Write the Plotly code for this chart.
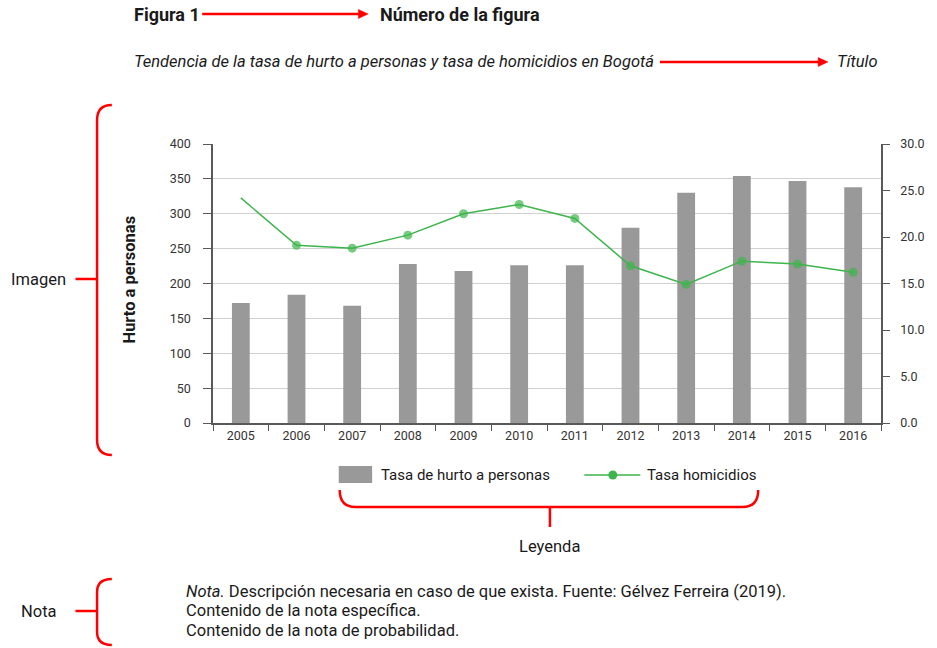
import plotly.graph_objects as go

# ---------------- data ----------------
years = ["2005", "2006", "2007", "2008", "2009", "2010", "2011", "2012", "2013", "2014", "2015", "2016"]
hurto = [172, 184, 168, 228, 218, 226, 226, 280, 330, 354, 347, 338]
homicidios = [24.2, 19.1, 18.8, 20.2, 22.5, 23.5, 22.0, 16.9, 14.9, 17.4, 17.1, 16.2]
marker_sizes = [0, 9, 9, 9, 9, 9, 9, 9, 9, 9, 9, 9]
left_ticks = [0, 50, 100, 150, 200, 250, 300, 350, 400]
right_ticks = [0, 5, 10, 15, 20, 25, 30]

W, H = 937, 648
L, R, T, B = 213, 893, 144, 423  # plot area in pixels

FONT = "Roboto"
RED = "#ff0000"
GRAY_BAR = "#999999"
GREEN = "#3cb54a"
AXIS = "#595959"


def X(px):
    return (px - L) / (R - L)


def Y(py):
    return (B - py) / (B - T)


fig = go.Figure()
fig.add_trace(go.Bar(
    x=years, y=hurto, name="Tasa de hurto a personas",
    marker=dict(color=GRAY_BAR, line=dict(width=0)), width=0.32,
))
fig.add_trace(go.Scatter(
    x=years, y=homicidios, name="Tasa homicidios", yaxis="y2",
    mode="lines+markers",
    line=dict(color=GREEN, width=1.5),
    marker=dict(color=GREEN, size=marker_sizes, line=dict(width=0)),
))

shapes = []
annotations = []

BIG = 16.5


def text(px, py, s, size=BIG, xanchor="left", yanchor="middle", color="#1a1a1a", angle=0):
    annotations.append(dict(
        x=X(px), y=Y(py), xref="paper", yref="paper", text=s, showarrow=False,
        xanchor=xanchor, yanchor=yanchor, textangle=angle, borderpad=0,
        font=dict(family=FONT, size=size, color=color),
    ))


def path(d_pts, color=RED, width=2.5, fill=None, closed=False):
    d = "M " + " ".join(
        (f"{c} " if isinstance(c, str) else f"{X(c[0]):.5f},{Y(c[1]):.5f} ") for c in d_pts
    )
    if closed:
        d += " Z"
    s = dict(type="path", xref="paper", yref="paper", path=d,
             line=dict(color=color, width=width))
    if fill:
        s["fillcolor"] = fill
    shapes.append(s)


def arrow(x0, x1, y):
    path([(x0, y), "L", (x1 - 8, y)], width=2.5)
    path([(x1 - 10, y - 4.5), "L", (x1, y), "L", (x1 - 10, y + 4.5)], width=0.5, fill=RED, closed=True)


# header
text(132, 14, "<b>Figura 1</b>", size=18)
arrow(202, 371, 14)
text(382, 14, "<b>Número de la figura</b>", size=18)

text(132, 62, "<i>Tendencia de la tasa de hurto a personas y tasa de homicidios en Bogotá</i>")
arrow(668, 839, 62)
text(847, 62, "<i>Título</i>")

# axis title
text(127, 280, "<b>Hurto a personas</b>", xanchor="center", angle=-90)

# Imagen brace
text(6, 279, "Imagen")
path([(110, 105), "Q", (95, 105), (95, 120), "L", (95, 440), "Q", (95, 455), (110, 455)])
path([(73, 279), "L", (95, 279)])

# custom legend
shapes.append(dict(type="rect", xref="paper", yref="paper",
                   x0=X(341), x1=X(375), y0=Y(466), y1=Y(483),
                   fillcolor=GRAY_BAR, line=dict(width=0)))
text(383, 475, "Tasa de hurto a personas", size=15)
path([(591, 475), "L", (648, 475)], color=GREEN, width=1.5)
shapes.append(dict(type="circle", xref="paper", yref="paper",
                   x0=X(615.5), x1=X(624.5), y0=Y(470.5), y1=Y(479.5),
                   fillcolor=GREEN, line=dict(width=0)))
text(654, 475, "Tasa homicidios", size=15)

# Leyenda brace
path([(342, 490), "Q", (342, 507), (358, 507), "L", (752, 507), "Q", (768, 507), (768, 490)])
path([(556, 507), "L", (556, 527)])
text(556, 546, "Leyenda", xanchor="center")

# Nota brace
text(17, 611, "Nota")
path([(110, 579), "Q", (95, 579), (95, 592), "L", (95, 632), "Q", (95, 645), (110, 645)])
path([(73, 611), "L", (95, 611)])
text(185, 591, "<i>Nota.</i> Descripción necesaria en caso de que exista. Fuente: Gélvez Ferreira (2019).")
text(185, 610, "Contenido de la nota específica.")
text(185, 630, "Contenido de la nota de probabilidad.")

tick_font = dict(family=FONT, size=12.5, color="#333333")

fig.update_layout(
    width=W, height=H, autosize=False,
    margin=dict(l=L, r=W - R, t=T, b=H - B, pad=0),
    paper_bgcolor="white", plot_bgcolor="white",
    showlegend=False,
    font=dict(family=FONT, size=12, color="#333333"),
    xaxis=dict(
        type="category", range=[-0.5, 11.5], showline=True, linecolor=AXIS, linewidth=1.5,
        ticks="outside", tickson="boundaries", ticklen=6, tickcolor=AXIS,
        tickfont=tick_font, showgrid=False, zeroline=False,
    ),
    yaxis=dict(
        range=[0, 400], tickvals=left_ticks, showline=True, linecolor=AXIS, linewidth=1.5,
        ticks="outside", ticklen=8, tickcolor=AXIS, ticklabelstandoff=10,
        showgrid=True, gridcolor="#d0d0d0", gridwidth=1, zeroline=False,
        tickfont=tick_font,
    ),
    yaxis2=dict(
        range=[0, 30], tickvals=right_ticks, tickformat=".1f", overlaying="y", side="right",
        showline=True, linecolor=AXIS, linewidth=1.5,
        ticks="outside", ticklen=7, tickcolor=AXIS, ticklabelstandoff=8,
        showgrid=False, zeroline=False,
        tickfont=tick_font,
    ),
    shapes=shapes,
    annotations=annotations,
)

fig.write_html("out.html")
